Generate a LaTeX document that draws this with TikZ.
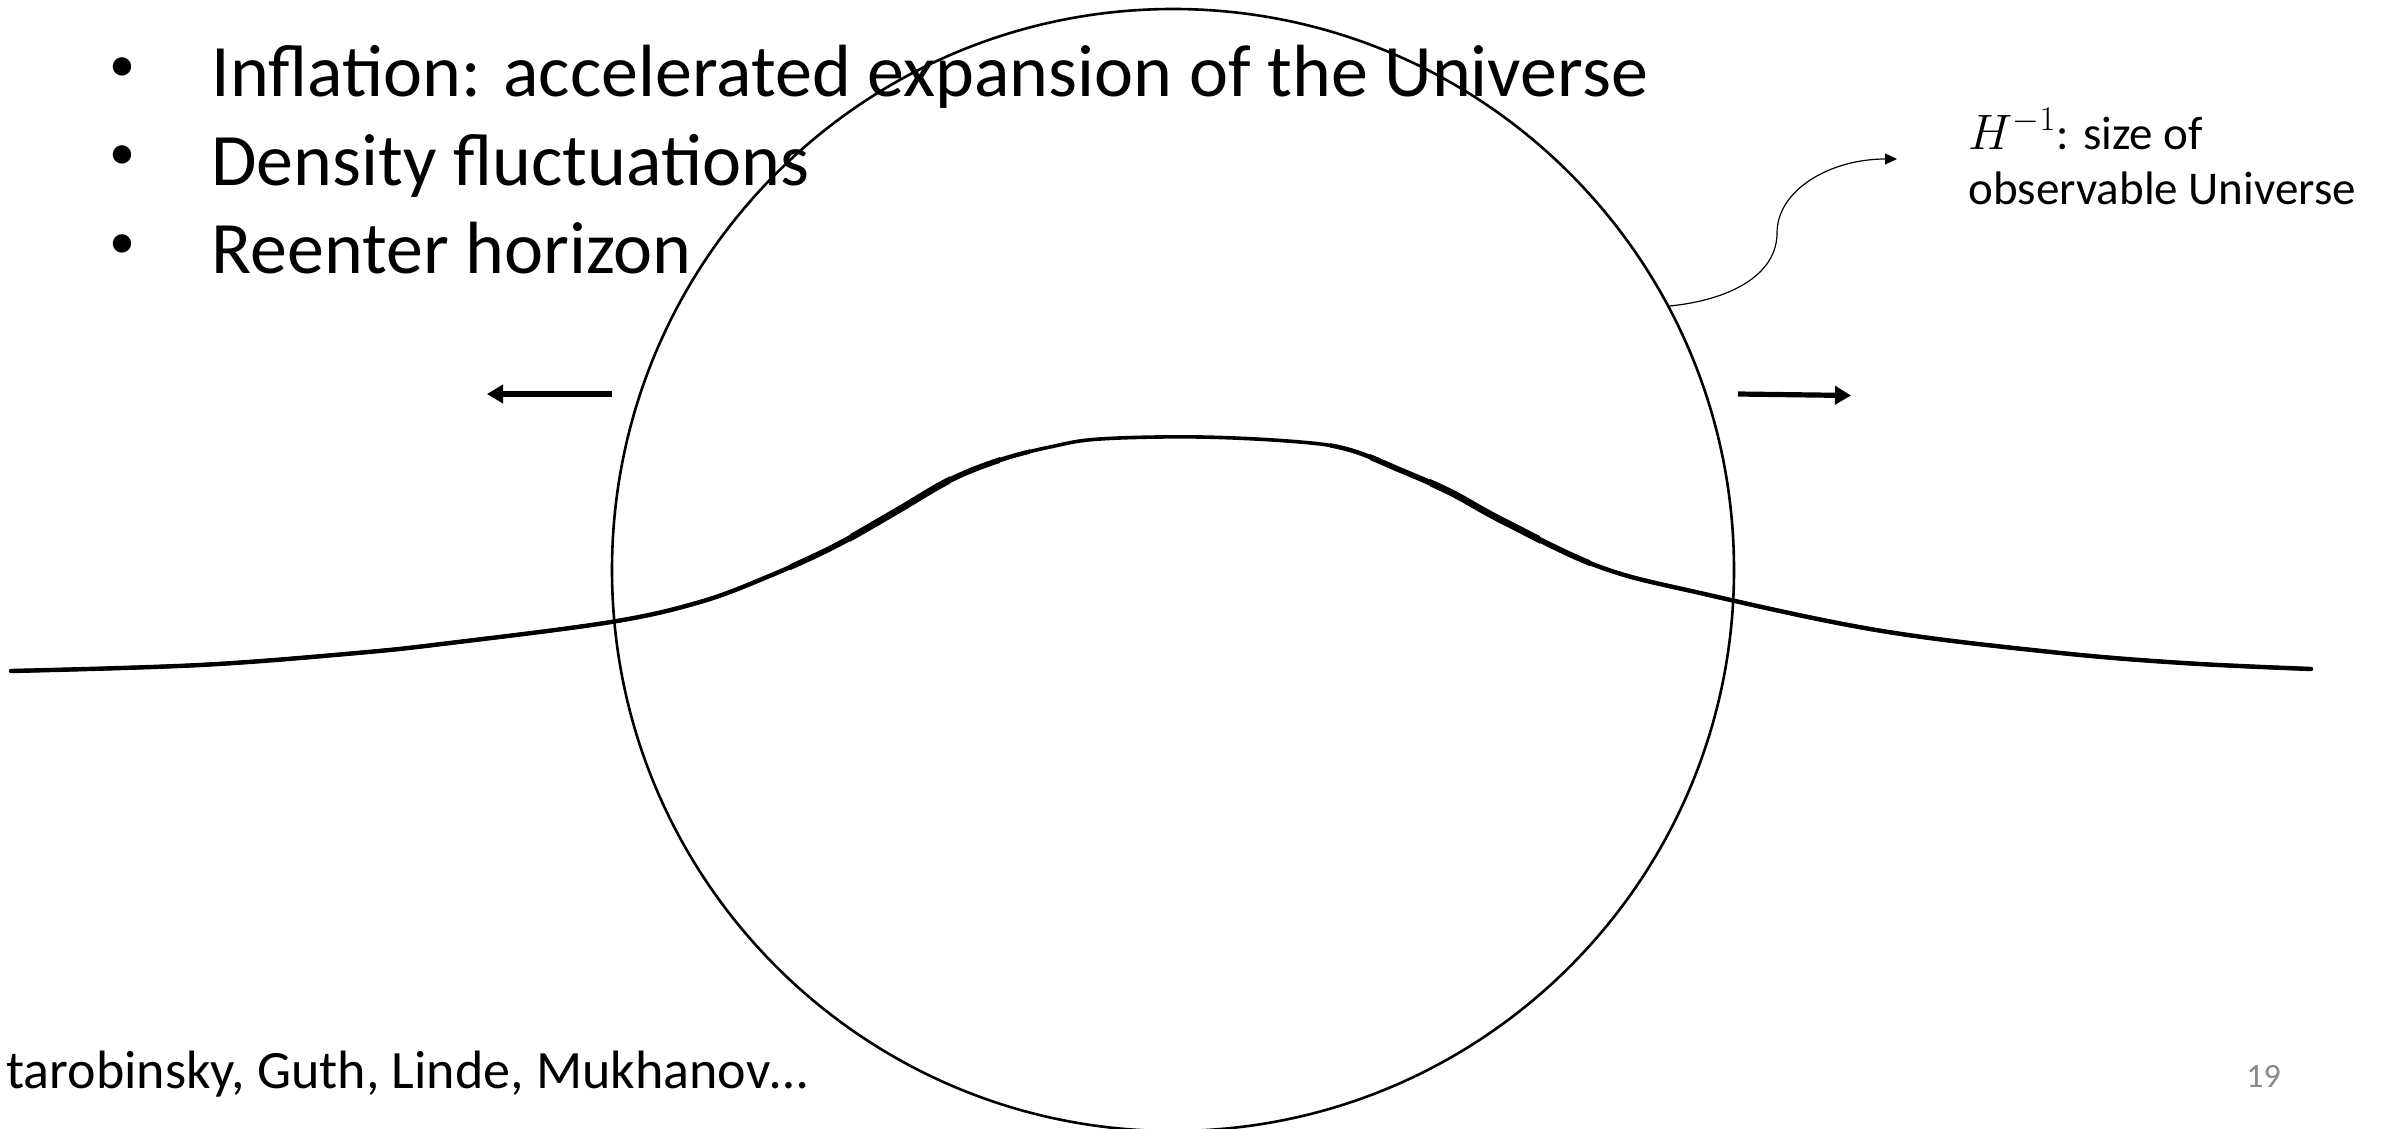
\documentclass[tikz,border=0pt]{standalone}
\usepackage{fontspec}
\setmainfont{Carlito}
\usetikzlibrary{arrows.meta}
\definecolor{pagegray}{HTML}{898989}
\tikzset{
  bigtext/.style={font=\fontsize{37}{44}\selectfont, anchor=base west, inner sep=0pt},
  bullet/.style={font=\fontsize{26}{30}\selectfont, anchor=center, inner sep=0pt},
  horizon/.style={circle, draw, line width=1.3pt, minimum size=561pt, inner sep=0pt},
  wave/.style={line cap=round, line join=round},
  fatarrow/.style={line width=2.6pt, -{Triangle[length=8pt,width=9pt]}},
  thinarrow/.style={line width=0.6pt, -{Triangle[length=6pt,width=5.5pt]}},
  smalltext/.style={font=\fontsize{23.5}{28}\selectfont, anchor=base west, inner sep=0pt, align=left},
}
\newcommand{\wavepath}{plot[smooth, tension=0.6] coordinates {
 (11,671) (200,665) (357,653) (450,643) (611,622) (700,602) (767,577) (833,547)
 (895,512) (950,480) (1000,460) (1050,447) (1100,439) (1200,437)
 (1300,442) (1350,450) (1400,470) (1450,492) (1505,522) (1600,567)
 (1700,593) (1876,630) (2051,652) (2183,663) (2311,669)}}
\begin{document}
\begin{tikzpicture}[x=0.5pt,y=-0.5pt]
\useasboundingbox (0,0) rectangle (2389,1129);
% bullets
\node[bullet] (b1) at (122,70) {•};
\node[bullet] (b2) at (122,158) {•};
\node[bullet] (b3) at (122,247) {•};
\node[bigtext] (t1) at (211,97) {Inflation: accelerated expansion of the Universe};
\node[bigtext] (t2) at (211,185) {Density fluctuations};
\node[bigtext] (t3) at (211,273) {Reenter horizon};
% horizon circle
\node[horizon] (hor) at (1173,570) {};
% density profile (line thicker on the steep flanks)
\draw[wave, line width=1.8pt] \wavepath;
\begin{scope}
  \clip (0,0) rectangle (1030,1129) (1330,0) rectangle (2389,1129);
  \draw[wave, line width=2.2pt] \wavepath;
\end{scope}
\begin{scope}
  \clip (790,0) rectangle (1000,1129) (1370,0) rectangle (1590,1129);
  \draw[wave, line width=2.8pt] \wavepath;
\end{scope}
\begin{scope}
  \clip (850,0) rectangle (950,1129) (1430,0) rectangle (1540,1129);
  \draw[wave, line width=3.4pt] \wavepath;
\end{scope}
% expansion arrows
\coordinate (lt) at (612,394);
\coordinate (lh) at (487,394);
\coordinate (rt) at (1738,394);
\coordinate (rh) at (1851,395.5);
\draw[fatarrow] (lt) -- (lh);
\draw[fatarrow] (rt) -- (rh);
% label
\node[smalltext] (lab) at (1968,205) {{\fontsize{27}{28}\selectfont$H^{-1}$}: size of\\observable Universe};
\coordinate (tip) at (1897,159);
\draw[thinarrow] (hor.28.8) .. controls (1730,300) and (1777,275) .. (1777,233)
  .. controls (1777,190) and (1830,159) .. (tip);
% footer
\node[font=\fontsize{27}{30}\selectfont, anchor=base west, inner sep=0pt] (auth) at (6,1088) {tarobinsky, Guth, Linde, Mukhanov…};
\node[font=\fontsize{17}{18}\selectfont, anchor=base west, inner sep=0pt, text=pagegray] (pg) at (2246,1087) {19};
\end{tikzpicture}
\end{document}
